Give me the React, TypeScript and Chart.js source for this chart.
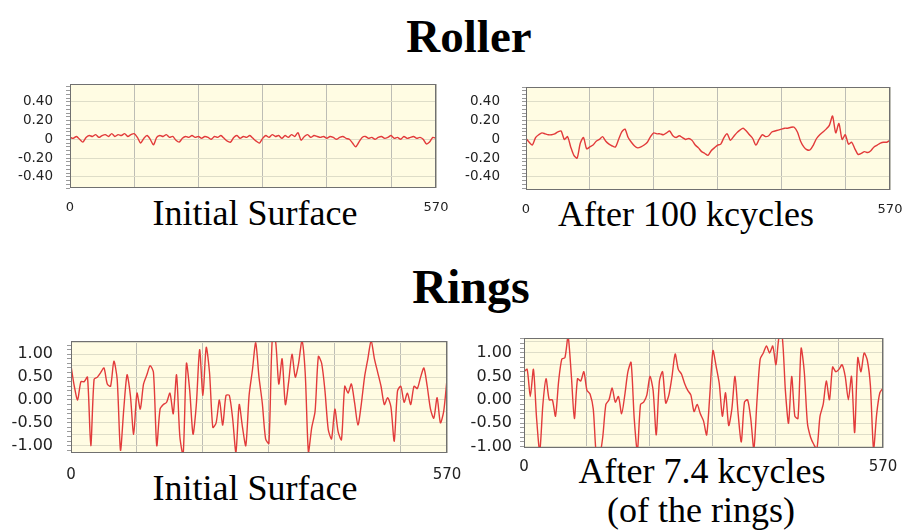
import { useEffect, useRef } from 'react';
import { Chart, registerables } from 'chart.js';

Chart.register(...registerables);

// Sampling positions along the profile (same grid for all four traces)
const distance = [
  0, 5, 10, 15, 20, 25, 30, 35, 40, 45,
  50, 55, 60, 65, 70, 75, 80, 85, 90, 95,
  100, 105, 110, 115, 120, 125, 130, 135, 140, 145,
  150, 155, 160, 165, 170, 175, 180, 185, 190, 195,
  200, 205, 210, 215, 220, 225, 230, 235, 240, 245,
  250, 255, 260, 265, 270, 275, 280, 285, 290, 295,
  300, 305, 310, 315, 320, 325, 330, 335, 340, 345,
  350, 355, 360, 365, 370, 375, 380, 385, 390, 395,
  400, 405, 410, 415, 420, 425, 430, 435, 440, 445,
  450, 455, 460, 465, 470, 475, 480, 485, 490, 495,
  500, 505, 510, 515, 520, 525, 530, 535, 540, 545,
  550, 555, 560, 565, 570,
];

// Roller, initial surface
const rollerInitial = [
  0.02, 0.01, 0.03, 0.0, -0.03, 0.02, 0.04, 0.03, 0.05, 0.02,
  0.04, 0.05, 0.03, 0.06, 0.03, 0.05, 0.04, 0.06, 0.03, 0.05,
  0.06, 0.02, -0.04, 0.01, 0.04, 0.0, -0.06, 0.02, 0.04, 0.03,
  0.05, 0.02, 0.03, -0.01, -0.03, 0.01, 0.03, 0.02, 0.04, 0.02,
  0.03, 0.01, 0.03, 0.02, 0.0, 0.03, 0.02, 0.04, 0.01, -0.02,
  -0.03, 0.02, 0.04, 0.01, 0.03, 0.02, 0.04, 0.01, -0.02, -0.04,
  0.01, 0.04, 0.02, 0.05, 0.03, 0.04, 0.01, 0.04, 0.02, 0.05,
  0.03, 0.07, -0.01, 0.03, 0.05, 0.02, 0.04, 0.03, 0.02, 0.03,
  0.01, 0.03, 0.02, 0.0, 0.02, 0.03, 0.01, 0.0, -0.04, -0.08,
  -0.03, 0.02, 0.03, 0.01, 0.02, 0.0, 0.02, 0.03, 0.01, 0.02,
  0.04, 0.01, 0.02, 0.0, 0.03, 0.01, 0.02, 0.03, 0.01, 0.02,
  0.0, -0.05, -0.03, 0.02, 0.01,
];

// Roller, after 100 kcycles
const rollerAfter = [
  0.01, -0.03, -0.06, 0.02, 0.05, 0.07, 0.06, 0.05, 0.05, 0.06,
  0.08, 0.09, 0.0, 0.03, -0.08, -0.17, -0.2, -0.04, 0.02, -0.1,
  -0.08, -0.06, -0.02, 0.0, 0.03, -0.02, -0.05, -0.07, -0.08, 0.0,
  0.08, 0.11, 0.02, -0.03, -0.07, -0.09, -0.08, -0.06, -0.03, 0.03,
  0.07, 0.06, 0.06, 0.05, 0.07, 0.09, 0.04, 0.02, 0.04, 0.02,
  0.0, 0.01, -0.01, -0.06, -0.09, -0.13, -0.15, -0.17, -0.12, -0.09,
  -0.06, -0.05, 0.02, 0.06, -0.01, 0.03, 0.07, 0.1, 0.12, 0.09,
  0.05, 0.01, -0.06, 0.0, 0.05, 0.03, 0.04, 0.08, 0.09, 0.1,
  0.11, 0.12, 0.12, 0.13, 0.13, 0.08, -0.02, -0.08, -0.11, -0.11,
  -0.06, 0.01, 0.05, 0.08, 0.11, 0.15, 0.25, 0.07, 0.17, 0.0,
  0.05, -0.05, -0.03, -0.1, -0.16, -0.15, -0.13, -0.14, -0.12, -0.08,
  -0.06, -0.04, -0.03, -0.03, -0.01,
];

// Rings, initial surface
const ringsInitial = [
  0.75, 0.3, 0.0, 0.4, 0.4, 0.5, -1.0, 0.45, 0.5, 0.6,
  0.7, 0.35, 0.3, 0.85, 0.45, -1.1, -0.2, 0.55, 0.1, -0.75,
  0.15, -0.2, 0.35, 0.55, 0.75, 0.6, -1.0, -0.2, -0.1, -0.05,
  0.15, -0.3, 0.55, -0.8, -1.2, 0.8, 0.2, -0.75, -0.1, 1.1,
  0.1, 1.15, 0.6, -0.6, -0.5, 0.0, -0.55, 0.1, 0.1, -0.4,
  -1.15, -0.1, -0.6, -1.0, 0.1, 0.65, 1.25, 0.5, -0.07, -0.85,
  -0.95, 1.3, 1.3, 0.35, 0.9, -0.1, 0.4, 1.0, 0.5, 0.8,
  1.3, 0.6, -1.15, -0.6, -0.25, 0.95, 0.8, 0.2, -0.65, -0.85,
  -0.2, -0.7, -0.87, 0.3, 0.15, 0.35, -0.07, -0.55, -0.1, 0.5,
  0.9, 1.3, 0.9, 0.6, 0.3, -0.1, 0.05, -0.15, -0.9, 0.2,
  0.3, -0.05, 0.15, -0.1, 0.3, 0.25, 0.5, 0.7, 0.3, -0.2,
  -0.4, 0.05, -0.5, -0.25, 0.45,
];

// Rings, after 7.4 kcycles
const ringsAfter = [
  0.6, 0.65, 0.07, 0.65, -0.4, -1.1, -0.1, 0.45, 0.0, 0.0,
  -0.35, 0.4, 0.87, 0.9, 1.35, 0.55, -0.4, 0.45, 0.4, 0.6,
  0.2, 0.12, -0.2, -1.2, -1.2, -0.8, -0.1, 0.0, 0.25, -0.05,
  0.07, -0.3, 0.1, 0.6, 0.8, -0.4, -1.1, -0.1, -0.05, 0.1,
  0.5, 0.2, -0.75, 0.4, 0.6, -0.07, 0.1, 0.5, 0.98, 0.65,
  0.55, 0.35, 0.2, 0.1, -0.25, -0.1, -0.3, -0.45, -0.75, 0.1,
  1.05, 0.72, 0.35, -0.35, 0.15, -0.55, -0.2, 0.5, -0.3, -0.9,
  -0.05, 0.0, -0.4, -1.05, 0.0, 0.87, 1.0, 1.15, 1.0, 1.15,
  0.75, 1.35, 1.35, 0.2, -0.5, 0.5, -0.35, -0.4, 1.1, 0.6,
  -0.5, -0.8, -0.95, -1.05, -0.35, -0.1, 0.4, 0.0, 0.7, 0.6,
  0.65, 0.75, 0.5, 0.0, 0.5, -0.7, 0.9, 0.6, 1.0, 0.85,
  0.3, -1.05, -0.3, 0.15, 0.25,
];

// Vertical grid positions and the two end labels of the distance axis
const xGridTicks = [0, 100, 200, 300, 400, 500, 570];
const xLabelled = [0, 570];

const SANS = '"DejaVu Sans", Verdana, sans-serif';
const SERIF = '"Liberation Serif", "Times New Roman", serif';
const PLOT_BG = '#fffce3';
const FRAME = '#707070';
const V_GRID = '#bdbdb5';
const H_GRID = '#deddc8';
const TRACE = '#e23b3b';
const TICK_TEXT = '#222222';

const Y_AXIS_W = 70;
const PAD_TOP = 45;
const PAD_RIGHT = 45;
const X_AXIS_H = 40;

type PanelSpec = {
  series: number[];
  plot: { left: number; top: number; right: number; bottom: number };
  yMin: number;
  yMax: number;
  yStep: number;
  labelEvery: number;
  minorStep: number;
  zeroAsInteger: boolean;
  yFont: number;
  xFont: number;
  yGap: number;
  xGap: number;
};

const panels: PanelSpec[] = [
  {
    series: rollerInitial,
    plot: { left: 70, top: 84, right: 436, bottom: 188 },
    yMin: -0.52, yMax: 0.59, yStep: 0.2, labelEvery: 0.2, minorStep: 0.04,
    zeroAsInteger: true, yFont: 13.5, xFont: 13, yGap: 17, xGap: 12,
  },
  {
    series: rollerAfter,
    plot: { left: 526, top: 87, right: 890, bottom: 190 },
    yMin: -0.54, yMax: 0.56, yStep: 0.2, labelEvery: 0.2, minorStep: 0.04,
    zeroAsInteger: true, yFont: 13.5, xFont: 13, yGap: 26, xGap: 12,
  },
  {
    series: ringsInitial,
    plot: { left: 71, top: 341, right: 447, bottom: 453 },
    yMin: -1.16, yMax: 1.29, yStep: 0.25, labelEvery: 0.5, minorStep: 0.1,
    zeroAsInteger: false, yFont: 16, xFont: 15, yGap: 18, xGap: 13,
  },
  {
    series: ringsAfter,
    plot: { left: 524, top: 338, right: 883, bottom: 448 },
    yMin: -1.03, yMax: 1.32, yStep: 0.25, labelEvery: 0.5, minorStep: 0.1,
    zeroAsInteger: false, yFont: 16, xFont: 15, yGap: 12, xGap: 10,
  },
];

// Cream plot background underneath, grey frame on top of the trace
const plotFrame = {
  id: 'plotFrame',
  beforeDraw(chart: Chart) {
    const { ctx, chartArea: a } = chart;
    ctx.save();
    ctx.fillStyle = PLOT_BG;
    ctx.fillRect(a.left, a.top, a.right - a.left, a.bottom - a.top);
    ctx.restore();
  },
  afterDatasetsDraw(chart: Chart) {
    const { ctx, chartArea: a } = chart;
    ctx.save();
    ctx.strokeStyle = FRAME;
    ctx.lineWidth = 1;
    ctx.strokeRect(a.left + 0.5, a.top + 0.5, a.right - a.left - 1, a.bottom - a.top - 1);
    ctx.restore();
  },
};

function ProfilePanel({ spec }: { spec: PanelSpec }) {
  const ref = useRef<HTMLCanvasElement>(null);
  const left = spec.plot.left - Y_AXIS_W;
  const top = spec.plot.top - PAD_TOP;
  const width = spec.plot.right - left + PAD_RIGHT;
  const height = spec.plot.bottom - top + X_AXIS_H;

  useEffect(() => {
    const isMultiple = (v: number, step: number) =>
      Math.abs(v / step - Math.round(v / step)) < 1e-6;

    const chart = new Chart(ref.current as HTMLCanvasElement, {
      type: 'line',
      data: {
        labels: distance,
        datasets: [
          {
            data: spec.series,
            borderColor: TRACE,
            borderWidth: 1.4,
            pointRadius: 0,
            tension: 0.25,
            fill: false,
          },
        ],
      },
      options: {
        responsive: false,
        animation: false,
        devicePixelRatio: 1,
        events: [],
        layout: { padding: { top: PAD_TOP, right: PAD_RIGHT, left: 0, bottom: 0 } },
        plugins: {
          legend: { display: false },
          tooltip: { enabled: false },
          title: { display: false },
        },
        scales: {
          x: {
            type: 'linear',
            min: 0,
            max: 570,
            afterBuildTicks: (scale: any) => {
              scale.ticks = xGridTicks.map((v) => ({ value: v }));
            },
            afterFit: (scale: any) => {
              scale.height = X_AXIS_H;
            },
            ticks: {
              autoSkip: false,
              maxRotation: 0,
              padding: spec.xGap,
              color: TICK_TEXT,
              font: { family: SANS, size: spec.xFont },
              callback: (v: any) => (xLabelled.includes(Number(v)) ? String(v) : ''),
            },
            grid: { color: V_GRID, drawTicks: false, lineWidth: 1 },
            border: { display: false },
          },
          y: {
            type: 'linear',
            position: 'left',
            weight: 1,
            min: spec.yMin,
            max: spec.yMax,
            afterFit: (scale: any) => {
              scale.width = Y_AXIS_W;
            },
            ticks: {
              stepSize: spec.yStep,
              includeBounds: false,
              autoSkip: false,
              padding: spec.yGap,
              color: TICK_TEXT,
              font: { family: SANS, size: spec.yFont },
              callback: (v: any) => {
                const n = Number(v);
                if (!isMultiple(n, spec.labelEvery)) return '';
                if (Math.abs(n) < 1e-9) return spec.zeroAsInteger ? '0' : '0.00';
                return n.toFixed(2);
              },
            },
            grid: { color: H_GRID, drawTicks: false, lineWidth: 1 },
            border: { display: false },
          },
          yMinor: {
            type: 'linear',
            position: 'left',
            weight: 0,
            min: spec.yMin,
            max: spec.yMax,
            afterFit: (scale: any) => {
              scale.width = 0;
            },
            ticks: { display: false, stepSize: spec.minorStep, autoSkip: false, includeBounds: false },
            grid: { drawOnChartArea: false, drawTicks: true, tickLength: 4, color: '#9a9a9a' },
            border: { display: false },
          },
        },
      },
      plugins: [plotFrame],
    } as any);
    return () => chart.destroy();
  }, [spec]);

  return (
    <canvas
      ref={ref}
      width={width}
      height={height}
      style={{ position: 'absolute', left, top, width, height }}
    />
  );
}

type Caption = { text: string; cx: number; baseline: number; size: number; bold?: boolean };

const captions: Caption[] = [
  { text: 'Roller', cx: 469, baseline: 52, size: 47, bold: true },
  { text: 'Rings', cx: 471, baseline: 303, size: 48, bold: true },
  { text: 'Initial Surface', cx: 255, baseline: 225, size: 36 },
  { text: 'After 100 kcycles', cx: 686, baseline: 226, size: 36 },
  { text: 'Initial Surface', cx: 255, baseline: 500, size: 36 },
  { text: 'After 7.4 kcycles', cx: 702, baseline: 483, size: 36 },
  { text: '(of the rings)', cx: 701, baseline: 522, size: 36 },
];

export default function App() {
  return (
    <div
      style={{
        position: 'fixed',
        left: 0,
        top: 0,
        width: 914,
        height: 530,
        background: '#ffffff',
        overflow: 'hidden',
      }}
    >
      {captions.map((c, i) => (
        <div
          key={i}
          style={{
            position: 'absolute',
            left: c.cx,
            top: c.baseline - 0.8375 * c.size,
            transform: 'translateX(-50%)',
            fontFamily: SERIF,
            fontSize: c.size,
            fontWeight: c.bold ? 'bold' : 'normal',
            lineHeight: 1,
            whiteSpace: 'nowrap',
            color: '#000',
          }}
        >
          {c.text}
        </div>
      ))}
      {panels.map((p, i) => (
        <ProfilePanel key={i} spec={p} />
      ))}
    </div>
  );
}
